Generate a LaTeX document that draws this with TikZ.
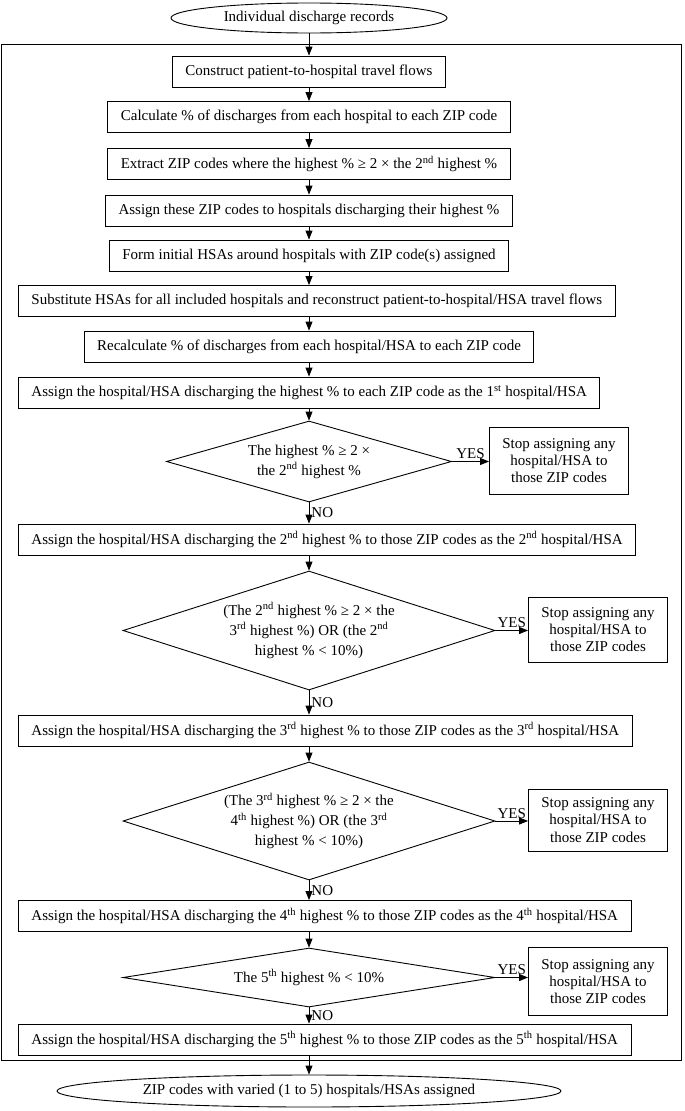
\documentclass[tikz,border=0pt]{standalone}
\usepackage{fontspec}
\setmainfont{Liberation Serif}
\usetikzlibrary{shapes.geometric,arrows.meta}

\begin{document}
\begin{tikzpicture}[x=1pt, y=-1pt,
	font=\fontsize{15}{17.25}\selectfont,
	box/.style={draw, line width=0.9pt, inner xsep=13pt, minimum height=31pt},
	longbox/.style={box, anchor=west},
	stopbox/.style={draw, line width=0.9pt, align=center, minimum width=139pt, inner sep=3pt},
	decision/.style={draw, diamond, line width=0.9pt, align=center, inner sep=0pt, font=\fontsize{15}{20}\selectfont},
	terminal/.style={draw, ellipse, line width=0.9pt, inner sep=0pt},
	flow/.style={-{Triangle[length=9pt,width=7pt]}, line width=0.9pt}]

\useasboundingbox (0,0) rectangle (685,1111);

\node[terminal, minimum width=276pt, minimum height=30pt] (start) at (309,18) {Individual discharge records};

% Marco exterior
\draw[line width=0.9pt] (1.5,44) rectangle (681.5,1060);

% Pasos iniciales
\node[box] (b1) at (309,71.5) {Construct patient-to-hospital travel flows};
\node[box] (b2) at (309,117) {Calculate \% of discharges from each hospital to each ZIP code};
\node[box] (b3) at (309,164) {Extract ZIP codes where the highest \% ≥ 2 × the 2\textsuperscript{nd} highest \%};
\node[box] (b4) at (309,210.5) {Assign these ZIP codes to hospitals discharging their highest \%};
\node[box] (b5) at (309,255.5) {Form initial HSAs around hospitals with ZIP code(s) assigned};
\node[longbox] (b6) at (18,301) {Substitute HSAs for all included hospitals and reconstruct patient-to-hospital/HSA travel flows};
\node[box] (b7) at (309,346.5) {Recalculate \% of discharges from each hospital/HSA to each ZIP code};
\node[longbox] (b8) at (18,392.5) {Assign the hospital/HSA discharging the highest \% to each ZIP code as the 1\textsuperscript{st} hospital/HSA};

% Decisiones
\node[decision, aspect=3.5, minimum width=285pt, minimum height=81pt] (d1) at (309,461.5)
	{The highest \% ≥ 2 ×\\the 2\textsuperscript{nd} highest \%};
\node[stopbox, minimum height=67pt] (s1) at (559,460.5) {Stop assigning any\\hospital/HSA to\\those ZIP codes};
\node[longbox] (b9) at (18,539.5) {Assign the hospital/HSA discharging the 2\textsuperscript{nd} highest \% to those ZIP codes as the 2\textsuperscript{nd} hospital/HSA};

\node[decision, aspect=3.1, minimum width=372pt, minimum height=119pt] (d2) at (309,630.5)
	{(The 2\textsuperscript{nd} highest \% ≥ 2 × the\\3\textsuperscript{rd} highest \%) OR (the 2\textsuperscript{nd}\\highest \% < 10\%)};
\node[stopbox, minimum height=65pt] (s2) at (598,629.5) {Stop assigning any\\hospital/HSA to\\those ZIP codes};
\node[longbox] (b10) at (18,730.5) {Assign the hospital/HSA discharging the 3\textsuperscript{rd} highest \% to those ZIP codes as the 3\textsuperscript{rd} hospital/HSA};

\node[decision, aspect=3.15, minimum width=372pt, minimum height=118pt] (d3) at (309,821)
	{(The 3\textsuperscript{rd} highest \% ≥ 2 × the\\4\textsuperscript{th} highest \%) OR (the 3\textsuperscript{rd}\\highest \% < 10\%)};
\node[stopbox, minimum height=62pt] (s3) at (598,820) {Stop assigning any\\hospital/HSA to\\those ZIP codes};
\node[longbox] (b11) at (18,916) {Assign the hospital/HSA discharging the 4\textsuperscript{th} highest \% to those ZIP codes as the 4\textsuperscript{th} hospital/HSA};

\node[decision, aspect=6.3, minimum width=372pt, minimum height=59pt] (d4) at (309,977.5)
	{The 5\textsuperscript{th} highest \% < 10\%};
\node[stopbox, minimum height=68pt] (s4) at (598,981.5) {Stop assigning any\\hospital/HSA to\\those ZIP codes};
\node[longbox] (b12) at (18,1039.5) {Assign the hospital/HSA discharging the 5\textsuperscript{th} highest \% to those ZIP codes as the 5\textsuperscript{th} hospital/HSA};

\node[terminal, minimum width=504pt, minimum height=32pt] (end) at (309,1091) {ZIP codes with varied (1 to 5) hospitals/HSAs assigned};

% Flechas
\foreach \a/\b in {start/b1, b1/b2, b2/b3, b3/b4, b4/b5, b5/b6, b6/b7, b7/b8, b8/d1, b9/d2, b10/d3, b11/d4, b12/end}
	\draw[flow] (\a.south -| start.south) -- (\b.north -| start.south);

\foreach \d/\s/\n in {d1/s1/b9, d2/s2/b10, d3/s3/b11, d4/s4/b12} {
	\draw[flow] (\d.east) -- node[above, inner sep=2pt] {YES} (\d.east -| \s.west);
	\draw[flow] (\d.south) -- node[right, inner sep=2pt] {NO} (\d.south |- \n.north);
}
\end{tikzpicture}
\end{document}
